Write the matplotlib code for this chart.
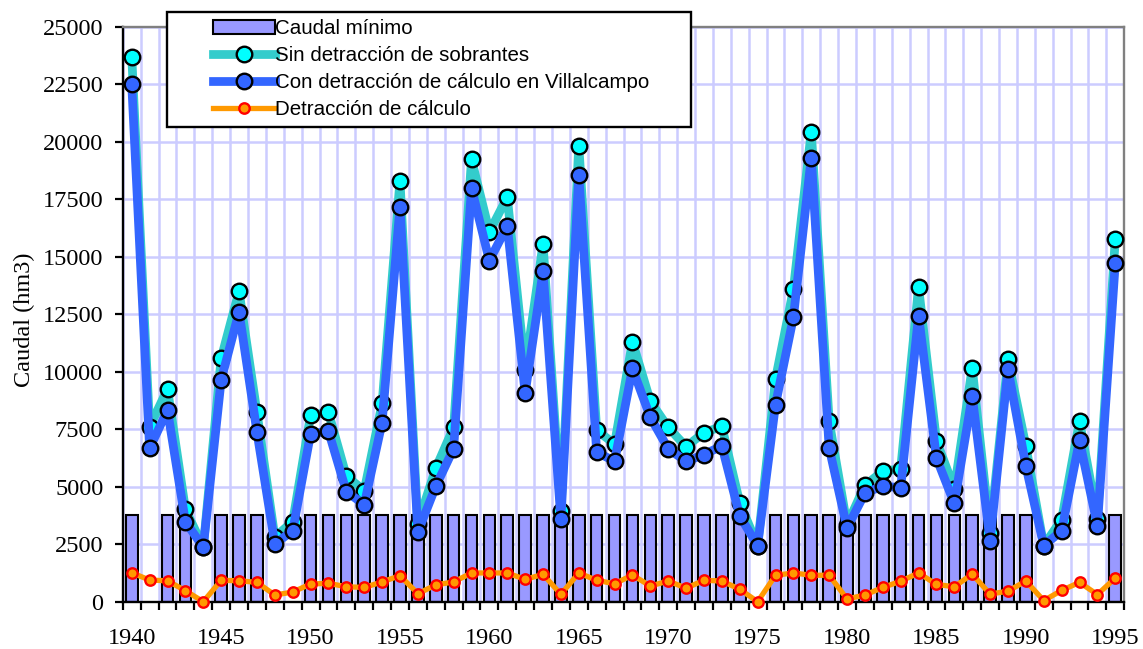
import numpy as np
import matplotlib
matplotlib.use("Agg")
import matplotlib.pyplot as plt
from matplotlib.patches import Rectangle

# Datos (hm3)
years = list(range(1940, 1996))

caudal_minimo = [3750, None, 3750, 3750, None, 3750, 3750, 3750, None, None,
                 3750, 3750, 3750, 3750, 3750, 3750, 3750, 3750, 3750, 3750,
                 3750, 3750, 3750, 3750, 3750, 3750, 3750, 3750, 3750, 3750,
                 3750, 3750, 3750, 3750, 3750, None, 3750, 3750, 3750, 3750,
                 3750, 3750, 3750, 3750, 3750, 3750, 3750, 3750, 3750, 3750,
                 3750, None, None, None, None, 3750]

sin_detraccion = [23700, 7600, 9250, 4020, 2370, 10580, 13500, 8230, 2810, 3480,
                  8110, 8230, 5460, 4830, 8620, 18300, 3390, 5800, 7580, 19230,
                  16080, 17590, 10090, 15560, 3960, 19830, 7450, 6860, 11310, 8720,
                  7580, 6740, 7350, 7620, 4300, 2440, 9680, 13580, 20440, 7850,
                  3350, 5060, 5670, 5780, 13670, 7000, 4910, 10170, 3000, 10550,
                  6770, 2440, 3570, 7850, 3610, 15760]

con_detraccion = [22490, 6670, 8330, 3480, 2370, 9640, 12600, 7390, 2520, 3080,
                  7300, 7420, 4790, 4220, 7790, 17170, 3030, 5010, 6660, 17980,
                  14830, 16340, 9070, 14360, 3580, 18560, 6510, 6100, 10140, 8020,
                  6650, 6100, 6400, 6770, 3730, 2440, 8570, 12360, 19310, 6690,
                  3200, 4720, 5030, 4950, 12440, 6250, 4270, 8950, 2650, 10120,
                  5900, 2440, 3080, 7010, 3310, 14720]

detraccion = [1260, 940, 910, 480, 0, 930, 910, 840, 290, 420,
              770, 800, 650, 620, 860, 1130, 350, 730, 860, 1250,
              1250, 1250, 970, 1190, 320, 1250, 930, 780, 1160, 680,
              900, 590, 930, 900, 540, 0, 1150, 1250, 1150, 1150,
              120, 290, 620, 890, 1250, 750, 650, 1200, 330, 460,
              900, 50, 490, 840, 310, 1030]

label_years = list(range(1940, 1996, 5))

serif = "Liberation Serif"
sans = "Liberation Sans"

fig = plt.figure(figsize=(11.43, 6.49), dpi=100)
ax = fig.add_axes([0.10744, 0.07288, 0.87612, 0.88598])

# barras del caudal mínimo (solo los años con valor)
bx = [y for y, v in zip(years, caudal_minimo) if v is not None]
bv = [v for v in caudal_minimo if v is not None]
bars = ax.bar(bx, bv, width=0.65, color="#9999FF", edgecolor="black",
              linewidth=1.5, zorder=2, label="Caudal mínimo")

l_sin, = ax.plot(years, sin_detraccion, color="#33CCCC", lw=6.3, marker="o",
                 ms=11.2, mfc="#00FFFF", mec="black", mew=1.7, zorder=3,
                 clip_on=False, label="Sin detracción de sobrantes")
l_con, = ax.plot(years, con_detraccion, color="#3366FF", lw=6.3, marker="o",
                 ms=11.2, mfc="#3366FF", mec="black", mew=1.7, zorder=4,
                 clip_on=False, label="Con detracción de cálculo en Villalcampo")
l_det, = ax.plot(years, detraccion, color="#FF9900", lw=3.8, marker="o",
                 ms=7.5, mfc="#FF9900", mec="#FF0000", mew=1.7, zorder=5,
                 clip_on=False, label="Detracción de cálculo")

ax.set_xlim(1939.5, 1995.5)
ax.set_ylim(0, 25000)

# ejes
ax.set_yticks(np.arange(0, 25001, 2500))
ax.set_yticklabels([str(v) for v in range(0, 25001, 2500)],
                   fontfamily=serif, fontsize=17.5)
ax.set_xticks(label_years)
ax.set_xticklabels([str(y) for y in label_years], fontfamily=serif, fontsize=17.5)
ax.set_xticks(np.arange(1939.5, 1996, 1.0), minor=True)
ax.tick_params(axis="x", which="major", length=0, pad=19)
ax.tick_params(axis="x", which="minor", length=6, width=1.6, direction="out")
ax.tick_params(axis="y", which="major", length=6, width=1.6, direction="out", pad=8)

ax.grid(axis="x", which="minor", color="#CCCCFF", lw=1.8, zorder=0)
ax.grid(axis="y", which="major", color="#CCCCFF", lw=1.8, zorder=0)
ax.set_axisbelow(True)

for s in ["left", "bottom"]:
    ax.spines[s].set_color("black")
    ax.spines[s].set_linewidth(1.7)
for s in ["top", "right"]:
    ax.spines[s].set_color("#808080")
    ax.spines[s].set_linewidth(1.7)

ax.set_ylabel("Caudal (hm3)", fontfamily=serif, fontsize=17.5)
ax.yaxis.set_label_coords(-0.088, 0.49)

# leyenda con marco propio
frame = Rectangle((167 / 1143, 1 - 127 / 649), (691 - 167) / 1143, (127 - 12) / 649,
                  transform=fig.transFigure, facecolor="white", edgecolor="black",
                  linewidth=1.7, zorder=4)
fig.add_artist(frame)
leg = fig.legend([bars, l_sin, l_con, l_det],
                 [bars.get_label(), l_sin.get_label(), l_con.get_label(), l_det.get_label()],
                 loc="upper left", bbox_to_anchor=(203 / 1143, 1 - 9 / 649),
                 frameon=False, borderpad=0, handlelength=3.0, handletextpad=0.0,
                 labelspacing=0.38, prop={"family": sans, "size": 14.8})
leg.set_zorder(5)

fig.savefig("out.png", dpi=100)
